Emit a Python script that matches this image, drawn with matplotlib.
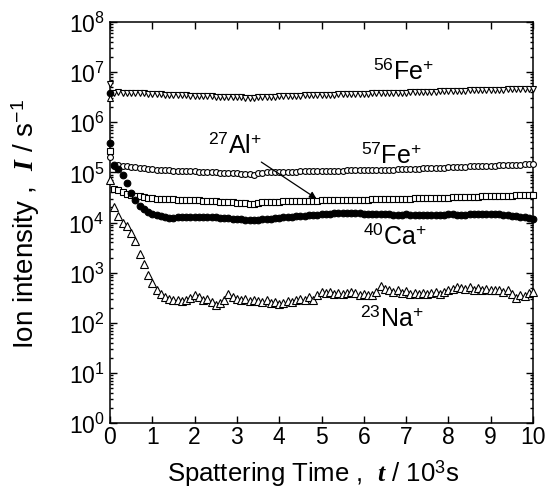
import matplotlib
matplotlib.use("Agg")
import matplotlib.pyplot as plt
from matplotlib.ticker import LogLocator, NullLocator, MultipleLocator
from matplotlib.transforms import ScaledTranslation

plt.rcParams['font.family'] = ['Liberation Sans', 'DejaVu Sans']
plt.rcParams['mathtext.fontset'] = 'custom'
plt.rcParams['mathtext.rm'] = 'Liberation Sans'
plt.rcParams['mathtext.it'] = 'Liberation Serif:bold:italic'
plt.rcParams['mathtext.bf'] = 'Liberation Sans:bold'

# sampling times (10^3 s)
time_ks = [i / 10 for i in range(101)]

# 56Fe+ (x 1e6 counts/s)
fe56 = [5.8,
        3.90, 3.95, 3.92, 3.88, 3.85, 3.82, 3.78, 3.75, 3.72, 3.68,
        3.62, 3.58, 3.55, 3.52, 3.50, 3.47, 3.45, 3.42, 3.40, 3.38,
        3.36, 3.33, 3.30, 3.28, 3.25, 3.22, 3.20, 3.18, 3.16, 3.14,
        3.12, 3.10, 3.08, 3.07, 3.12, 3.16, 3.20, 3.22, 3.25, 3.28,
        3.30, 3.32, 3.35, 3.37, 3.40, 3.42, 3.44, 3.46, 3.48, 3.50,
        3.52, 3.55, 3.57, 3.60, 3.62, 3.64, 3.66, 3.68, 3.70, 3.72,
        3.74, 3.76, 3.78, 3.80, 3.82, 3.84, 3.86, 3.88, 3.90, 3.92,
        3.95, 3.97, 4.00, 4.02, 4.05, 4.07, 4.10, 4.12, 4.15, 4.17,
        4.20, 4.22, 4.25, 4.27, 4.30, 4.32, 4.35, 4.37, 4.40, 4.42,
        4.45, 4.47, 4.50, 4.52, 4.54, 4.55, 4.56, 4.57, 4.58, 4.60]

# 57Fe+ (x 1e5)
fe57 = [2.0,
        1.35, 1.38, 1.36, 1.33, 1.30, 1.27, 1.24, 1.21, 1.18, 1.15,
        1.13, 1.12, 1.10, 1.09, 1.08, 1.08, 1.07, 1.06, 1.05, 1.05,
        1.04, 1.03, 1.02, 1.01, 1.00, 0.99, 0.98, 0.97, 0.96, 0.95,
        0.94, 0.93, 0.92, 0.90, 0.97, 0.99, 1.00, 1.01, 1.02, 1.02,
        1.03, 1.03, 1.04, 1.04, 1.05, 1.05, 1.05, 1.06, 1.06, 1.07,
        1.07, 1.07, 1.08, 1.08, 1.08, 1.09, 1.09, 1.10, 1.10, 1.10,
        1.11, 1.11, 1.12, 1.12, 1.13, 1.13, 1.14, 1.15, 1.15, 1.16,
        1.17, 1.18, 1.19, 1.20, 1.21, 1.22, 1.23, 1.24, 1.25, 1.26,
        1.27, 1.28, 1.29, 1.30, 1.31, 1.32, 1.33, 1.34, 1.35, 1.36,
        1.37, 1.38, 1.39, 1.40, 1.41, 1.42, 1.43, 1.45, 1.47, 1.50]

# 27Al+ (x 1e4)
al27 = [27.0,
        4.60, 4.40, 4.00, 3.70, 3.55, 3.45, 3.35, 3.25, 3.15, 3.05,
        3.00, 2.97, 2.94, 2.91, 2.88, 2.86, 2.84, 2.82, 2.80, 2.78,
        2.75, 2.72, 2.69, 2.66, 2.63, 2.60, 2.57, 2.54, 2.51, 2.48,
        2.45, 2.42, 2.38, 2.32, 2.48, 2.52, 2.55, 2.57, 2.59, 2.61,
        2.63, 2.64, 2.66, 2.67, 2.68, 2.70, 2.71, 2.72, 2.73, 2.75,
        2.76, 2.77, 2.78, 2.79, 2.80, 2.81, 2.82, 2.83, 2.84, 2.85,
        2.87, 2.88, 2.89, 2.90, 2.92, 2.93, 2.94, 2.96, 2.97, 2.99,
        3.00, 3.02, 3.03, 3.05, 3.06, 3.08, 3.10, 3.11, 3.13, 3.15,
        3.17, 3.19, 3.21, 3.23, 3.25, 3.27, 3.29, 3.31, 3.33, 3.35,
        3.37, 3.39, 3.41, 3.43, 3.45, 3.47, 3.50, 3.53, 3.56, 3.60]

# 40Ca+ (x 1e4)
ca40 = [39.0,
        14.0, 11.5, 8.8, 6.2, 3.9, 2.8, 2.15, 1.85, 1.65, 1.50,
        1.40, 1.32, 1.27, 1.25, 1.25, 1.26, 1.27, 1.28, 1.28, 1.28,
        1.29, 1.28, 1.27, 1.27, 1.26, 1.25, 1.24, 1.22, 1.20, 1.18,
        1.16, 1.14, 1.12, 1.10, 1.12, 1.15, 1.18, 1.20, 1.22, 1.25,
        1.27, 1.29, 1.31, 1.33, 1.35, 1.37, 1.39, 1.41, 1.43, 1.45,
        1.47, 1.50, 1.52, 1.55, 1.56, 1.55, 1.54, 1.53, 1.52, 1.50,
        1.49, 1.48, 1.47, 1.46, 1.45, 1.45, 1.44, 1.44, 1.44, 1.45,
        1.44, 1.43, 1.42, 1.41, 1.40, 1.41, 1.42, 1.43, 1.44, 1.45,
        1.45, 1.44, 1.43, 1.44, 1.45, 1.46, 1.48, 1.49, 1.50, 1.50,
        1.48, 1.45, 1.42, 1.39, 1.36, 1.33, 1.30, 1.27, 1.24, 1.20]

# 23Na+ (x 1e2)
na23 = [720,
        205, 135, 98, 85, 62, 43, 24, 15, 9.1, 6.3,
        4.6, 3.7, 3.3, 3.0, 2.9, 2.8, 2.7, 2.8, 3.1, 3.6,
        3.2, 2.9, 3.0, 2.6, 2.3, 2.5, 2.9, 3.8, 3.3, 3.0,
        2.8, 3.0, 2.7, 2.9, 2.7, 2.6, 2.8, 2.5, 2.6, 2.4,
        2.5, 2.7, 2.6, 2.8, 3.0, 2.9, 3.2, 2.8, 3.5, 4.2,
        3.9, 4.1, 3.8, 4.0, 3.7, 3.9, 4.1, 3.9, 3.6, 3.8,
        3.5, 3.6, 4.2, 5.3, 4.8, 4.5, 4.2, 4.4, 3.9, 4.3,
        3.7, 3.9, 3.8, 4.0, 3.7, 3.9, 4.1, 3.8, 4.2, 4.4,
        4.7, 5.2, 5.0, 4.8, 5.1, 4.6, 4.9, 4.5, 4.8, 4.6,
        4.4, 4.5, 4.2, 4.4, 3.8, 3.1, 3.6, 3.4, 3.9, 4.2]

# extra first-cycle points at t = 0
init_circle_t = [0.0]
init_circle_v = [3.9e6]
init_tri_t = [0.0]
init_tri_v = [3.0e6]

fig = plt.figure(figsize=(5.55, 4.89), dpi=100)
ax = fig.add_axes([110/555, 1-424/489, 423/555, 401/489])

mew = 0.8
ax.plot(time_ks, [v*1e6 for v in fe56], ls='none', marker='v', ms=4.5,
        mfc='white', mec='black', mew=mew, clip_on=False, zorder=3)
ax.plot(time_ks, [v*1e5 for v in fe57], ls='none', marker='o', ms=4.2,
        mfc='white', mec='black', mew=mew, clip_on=False, zorder=3)
ax.plot(time_ks, [v*1e4 for v in al27], ls='none', marker='s', ms=4.0,
        mfc='white', mec='black', mew=mew, clip_on=False, zorder=3)
ax.plot(time_ks, [v*1e4 for v in ca40], ls='none', marker='o', ms=4.8,
        mfc='black', mec='black', mew=mew, clip_on=False, zorder=3)
ax.plot(time_ks, [v*1e2 for v in na23], ls='none', marker='^', ms=6.0,
        mfc='white', mec='black', mew=mew, clip_on=False, zorder=3)
ax.plot(init_circle_t, init_circle_v, ls='none', marker='o', ms=4.5,
        mfc='black', mec='black', clip_on=False, zorder=3)
ax.plot(init_tri_t, init_tri_v, ls='none', marker='^', ms=5.0,
        mfc='white', mec='black', mew=mew, clip_on=False, zorder=3)

ax.set_yscale('log')
ax.set_xlim(0, 10)
ax.set_ylim(1, 1e8)
ax.xaxis.set_major_locator(MultipleLocator(1))
ax.xaxis.set_minor_locator(NullLocator())
ax.yaxis.set_major_locator(LogLocator(base=10, numticks=20))
ax.yaxis.set_minor_locator(LogLocator(base=10, subs=[2, 3, 4, 5, 6, 7, 8, 9], numticks=20))

for s in ax.spines.values():
    s.set_linewidth(1.1)
ax.tick_params(which='both', direction='in', top=True, right=True, width=1.0)
ax.tick_params(which='major', length=5, labelsize=16.5)
ax.tick_params(axis='y', which='major', pad=4)
ax.tick_params(axis='x', which='major', pad=1.5)
ax.tick_params(which='minor', length=2.5)

ax.set_xlabel(r'Spattering Time ,  $\mathit{t}$ / 10$^{3}$s', fontsize=18.5)
ax.set_ylabel(r'Ion intensity ,  $\mathit{I}$ / s$^{-1}$', fontsize=20)
ax.xaxis.set_label_coords(0.48, -0.085)
ax.yaxis.set_label_coords(-0.16, 0.5)

fs = 18
ax.text(6.93, 1.1e7, r'$^{56}$Fe$^{+}$', fontsize=fs, ha='center', va='center')
ax.text(6.64, 2.3e5, r'$^{57}$Fe$^{+}$', fontsize=fs, ha='center', va='center')
ax.text(6.74, 5.5e3, r'$^{40}$Ca$^{+}$', fontsize=fs, ha='center', va='center')
ax.text(6.67, 1.26e2, r'$^{23}$Na$^{+}$', fontsize=fs, ha='center', va='center')
ax.annotate(r'$^{27}$Al$^{+}$', xy=(4.88, 3.0e4), xytext=(2.95, 3.6e5),
            fontsize=fs, ha='center', va='center',
            arrowprops=dict(arrowstyle='-|>', color='black', lw=0.9,
                            shrinkA=3, shrinkB=0, mutation_scale=10))

fig.canvas.draw()
first = ax.xaxis.get_major_ticks()[0]
first.label1.set_transform(first.label1.get_transform() +
                           ScaledTranslation(3/100, 0, fig.dpi_scale_trans))

fig.savefig('out.png', dpi=100)
